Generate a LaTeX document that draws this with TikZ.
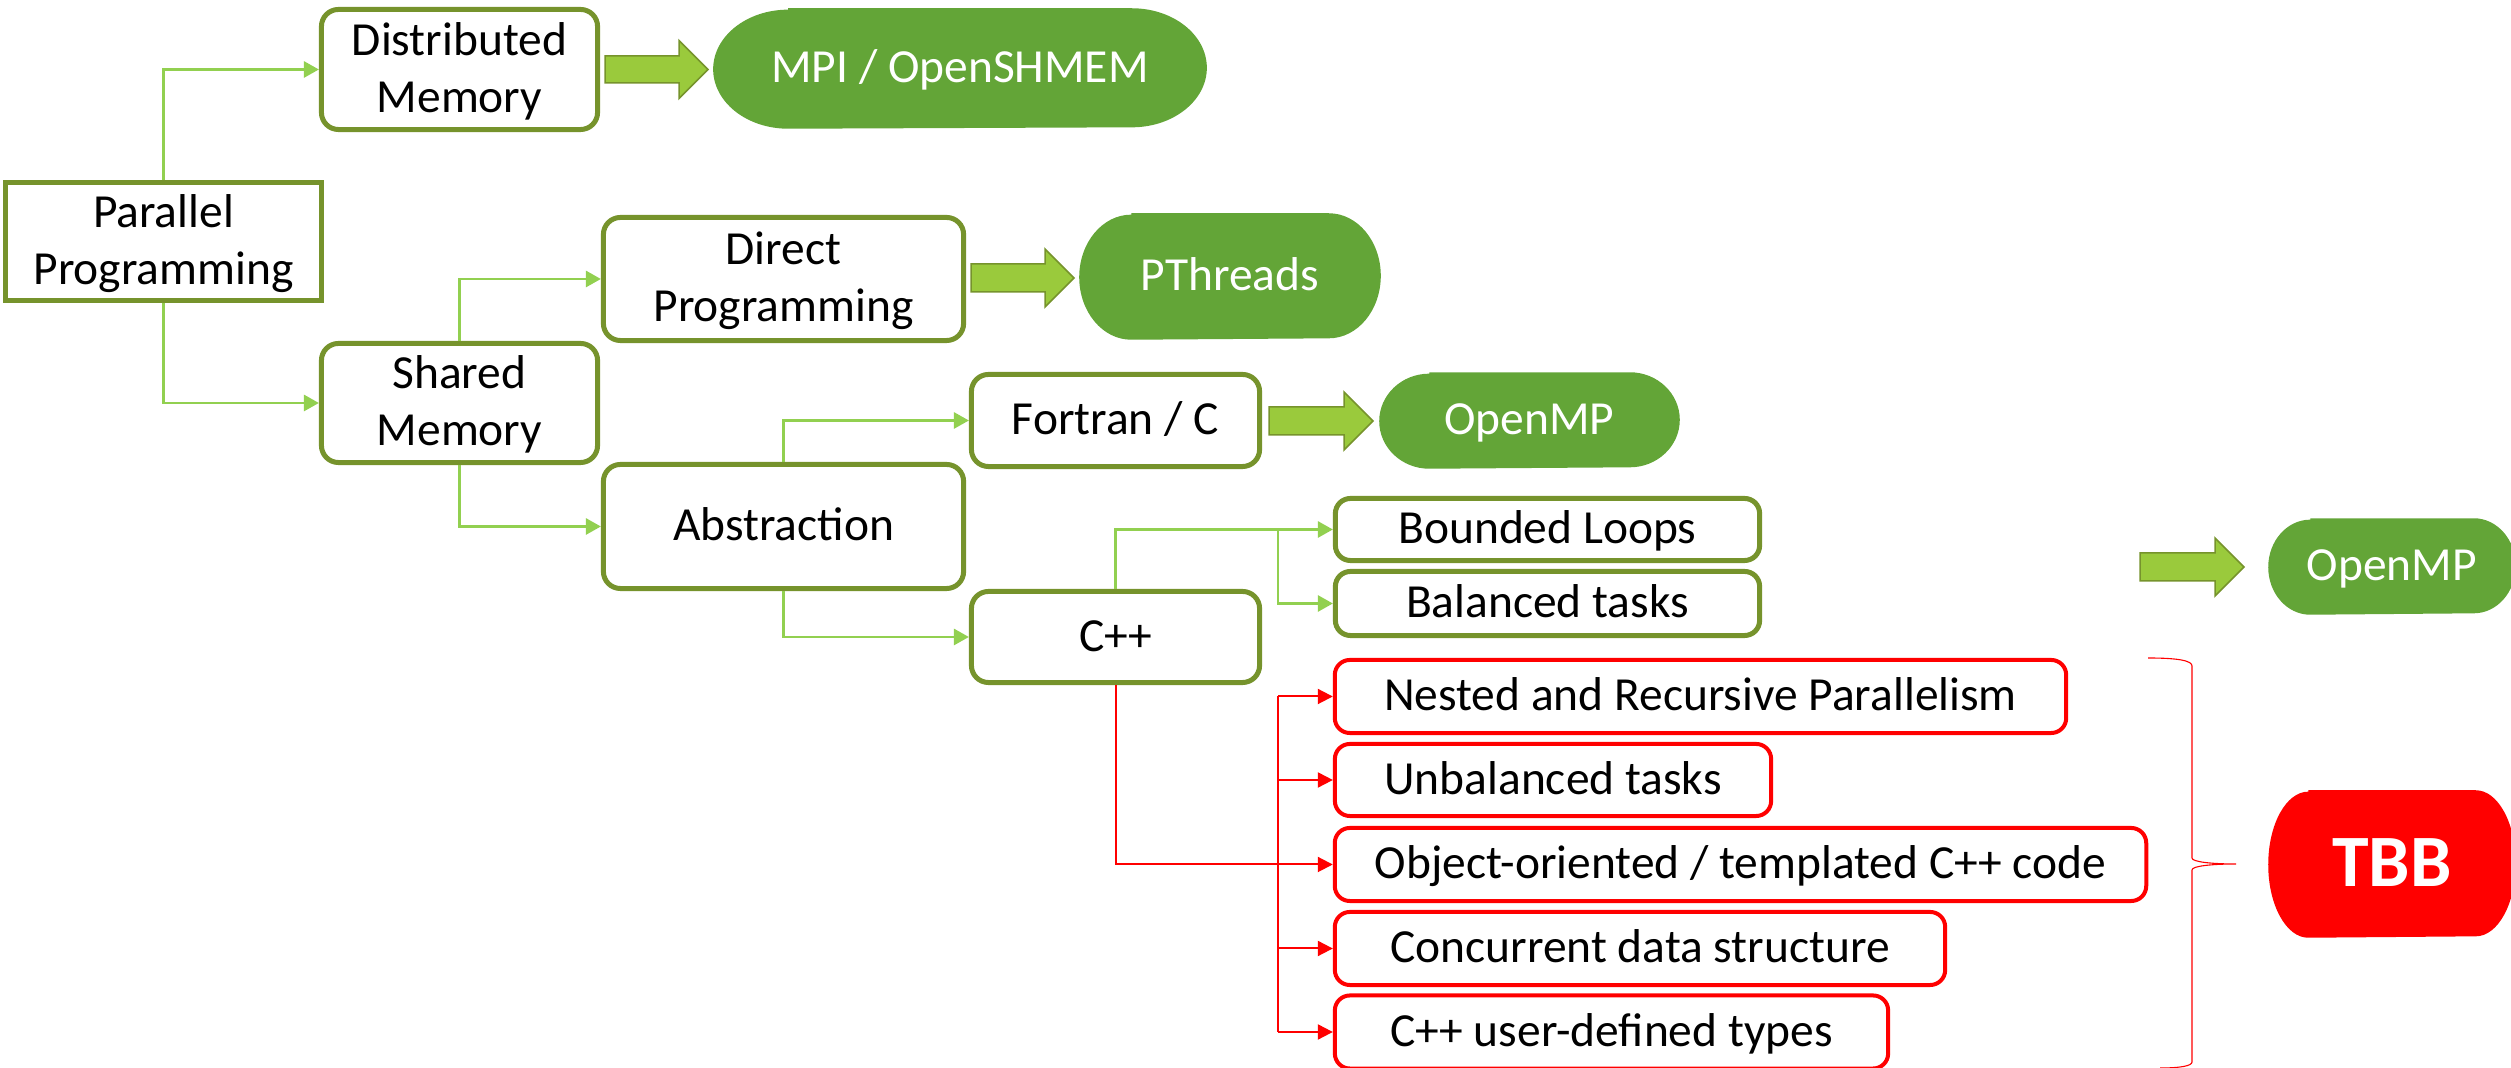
\documentclass[tikz,border=0pt]{standalone}
\usepackage{fontspec}
\setmainfont{Carlito}
\usetikzlibrary{arrows.meta,calc,backgrounds}
\definecolor{boxgreen}{RGB}{118,147,44}
\definecolor{lgreen}{RGB}{146,208,80}
\definecolor{pillgreen}{RGB}{99,165,55}
\definecolor{arrfill}{RGB}{154,202,60}
\definecolor{pured}{RGB}{255,0,0}
\newcommand\bstrut{\rule[-0.1em]{0pt}{0.8em}}
\newcommand\lineT[1]{\bstrut\smash{#1}}
\newcommand\pillfill[4]{\fill[#4] ($(#1.north west)+(#2,0)$) -- ($(#1.north east)-(#2,0)$)
  arc[start angle=90,end angle=-90,x radius=#2,y radius=#3]
  -- ($(#1.south west)+(#2,0)$)
  arc[start angle=270,end angle=90,x radius=#2,y radius=#3] -- cycle;}
\newcommand\blockarrow[6]{\draw[barrow] (#1,#4-#5) -- (#2,#4-#5) -- (#2,#4-#6) -- (#3,#4)
  -- (#2,#4+#6) -- (#2,#4+#5) -- (#1,#4+#5) -- cycle;}
\tikzset{
 txt/.style={font=\fontsize{13.5pt}{16.2pt}\selectfont, align=center, inner sep=0pt},
 gbox/.style={txt, draw=boxgreen, line width=0.05cm, rounded corners=0.17cm, fill=white},
 sqbox/.style={txt, draw=boxgreen, line width=0.055cm, fill=white},
 rbox/.style={txt, draw=pured, line width=0.04cm, rounded corners=0.15cm, fill=white},
 pilltext/.style={txt, text=white},
 gconn/.style={draw=lgreen, line width=0.028cm, -{Triangle[length=0.15cm,width=0.16cm]}},
 rconn/.style={draw=pured, line width=0.02cm, -{Triangle[length=0.15cm,width=0.15cm]}},
 rline/.style={draw=pured, line width=0.02cm},
 barrow/.style={fill=arrfill, draw=boxgreen, line width=0.015cm, line join=miter},
 bracestyle/.style={draw=pured, line width=0.011cm},
}
\begin{document}
\begin{tikzpicture}[x=0.01cm,y=-0.01cm]
\useasboundingbox (0,0) rectangle (2511,1068);
% green boxes
\node[sqbox, minimum width=3.16cm, minimum height=1.18cm] (par) at (163.5,241.5) {\lineT{Parallel}\\\lineT{Programming}};
\node[gbox, minimum width=2.76cm, minimum height=1.20cm] (dm) at (459.5,69.5) {\lineT{Distributed}\\\lineT{Memory}};
\node[gbox, minimum width=2.76cm, minimum height=1.19cm] (sm) at (459.5,403) {\lineT{Shared}\\\lineT{Memory}};
\node[gbox, minimum width=3.60cm, minimum height=1.23cm] (dp) at (783.5,279) {\lineT{Direct}\\\lineT{Programming}};
\node[gbox, minimum width=3.60cm, minimum height=1.24cm] (ab) at (783.5,526.5) {\lineT{Abstraction}};
\node[gbox, minimum width=2.88cm, minimum height=0.92cm] (fc) at (1115.5,420.5) {\lineT{Fortran / C}};
\node[gbox, minimum width=2.88cm, minimum height=0.91cm] (cpp) at (1115.5,637) {\lineT{C++}};
\node[gbox, rounded corners=0.15cm, minimum width=4.24cm, minimum height=0.62cm] (bl) at (1547.5,529.5) {\lineT{Bounded Loops}};
\node[gbox, rounded corners=0.15cm, minimum width=4.24cm, minimum height=0.64cm] (bt) at (1547.5,603.5) {\lineT{Balanced tasks}};
% red boxes
\node[rbox, minimum width=7.31cm, minimum height=0.73cm] (n1) at (1700.5,696.5) {\lineT{Nested and Recursive Parallelism}};
\node[rbox, minimum width=4.36cm, minimum height=0.72cm] (n2) at (1553,780) {\lineT{Unbalanced tasks}};
\node[rbox, minimum width=8.11cm, minimum height=0.73cm] (n3) at (1740.5,864.5) {\lineT{Object-oriented / templated C++ code}};
\node[rbox, minimum width=6.10cm, minimum height=0.73cm] (n4) at (1640,948.5) {\lineT{Concurrent data structure}};
\node[rbox, minimum width=5.53cm, minimum height=0.73cm] (n5) at (1611.5,1032) {\lineT{C++ user-defined types}};
% pills
\node[pilltext, minimum width=4.92cm, minimum height=1.19cm] (mpi) at (960,68.5) {\lineT{MPI / OpenSHMEM}};
\node[pilltext, minimum width=3.00cm, minimum height=1.25cm] (pth) at (1230,276.5) {\lineT{PThreads}};
\node[pilltext, minimum width=2.99cm, minimum height=0.95cm] (omp1) at (1529.5,420.5) {\lineT{OpenMP}};
\node[pilltext, minimum width=2.46cm, minimum height=0.95cm] (omp2) at (2392,566.5) {\lineT{OpenMP}};
\node[pilltext, font=\bfseries\fontsize{21pt}{25pt}\selectfont, minimum width=2.46cm, minimum height=1.46cm] (tbb) at (2392,864) {\lineT{TBB}};
\begin{pgfonlayer}{background}
\pillfill{mpi}{0.75cm}{0.595cm}{pillgreen}
\pillfill{pth}{0.52cm}{0.625cm}{pillgreen}
\pillfill{omp1}{0.50cm}{0.475cm}{pillgreen}
\pillfill{omp2}{0.42cm}{0.475cm}{pillgreen}
\pillfill{tbb}{0.40cm}{0.73cm}{pured}
\end{pgfonlayer}
% block arrows
\blockarrow{605}{679}{708}{69.5}{13.5}{29}
\blockarrow{971}{1045}{1074}{278}{14}{29}
\blockarrow{1269}{1344}{1373}{421}{14}{29}
\blockarrow{2140}{2215}{2244}{567}{14}{29}
% green connectors
\draw[gconn] (par.north) |- (dm.west);
\draw[gconn] (par.south) |- (sm.west);
\draw[gconn] (sm.north) |- (dp.west);
\draw[gconn] (sm.south) |- (ab.west);
\draw[gconn] (ab.north) |- (fc.west);
\draw[gconn] (ab.south) |- (cpp.west);
\draw[gconn] (cpp.north) |- (bl.west);
\coordinate (gj) at (1278,529.5);
\draw[gconn] (gj) |- (bt.west);
% red connectors
\coordinate (rt) at (1278,0);
\draw[rconn] (cpp.south) |- (n3.west);
\draw[rline] (rt |- n1.west) -- (rt |- n5.west);
\draw[rconn] (rt |- n1.west) -- (n1.west);
\draw[rconn] (rt |- n2.west) -- (n2.west);
\draw[rconn] (rt |- n4.west) -- (n4.west);
\draw[rconn] (rt |- n5.west) -- (n5.west);
% brace
\draw[bracestyle] (2148,658) .. controls (2180,658) and (2192,661) .. (2192,666) -- (2192,858)
  .. controls (2192,862) and (2212,864) .. (2236,864)
  .. controls (2212,864) and (2192,866) .. (2192,870) -- (2192,1062)
  .. controls (2192,1066) and (2180,1068) .. (2160,1068);
\end{tikzpicture}
\end{document}
